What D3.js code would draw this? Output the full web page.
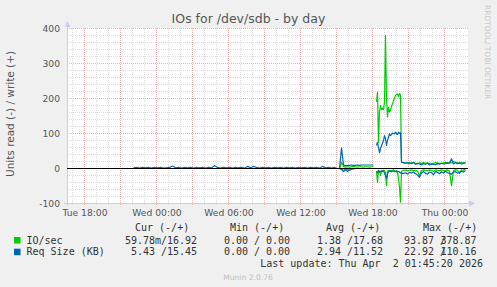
<!DOCTYPE html>
<html><head><meta charset="utf-8">
<script src="https://cdn.jsdelivr.net/npm/d3@7"></script>
<style>body{margin:0;background:#f0f0f0}svg{display:block}</style>
</head><body>
<script>
// ---------- data ----------
const xLabelTimes = [[2026,2,31,18],[2026,3,1,0],[2026,3,1,6],[2026,3,1,12],[2026,3,1,18],[2026,3,2,0]];
const xLabels = ["Tue 18:00","Wed 00:00","Wed 06:00","Wed 12:00","Wed 18:00","Thu 00:00"];
const yTicks = [-100, 0, 100, 200, 300, 400];

// quiet period: Req Size write only, 15-min samples from Tue 22:05
const quietStart = [2026,2,31,22,5];
const rsW1 = [2,3,1,3,2,3,1,3,2,3, 1,2,3,7,2,3,1,3,2,3, 1,3,2,3,1,3,2,8,3,1, 3,2,3,1,3,2,3,1,6,2,
              6,3,1,3,2,3,1,3,2,3, 1,3,2,3,1,3,2,3,1,3, 2,3,1,6,2,3,1,3,0];
// 10-min samples from Wed 15:15
const seg2Start = [2026,3,1,15,15];
const ioW2 = [0,18,6,4,5,4,5,6,5,4,5,5,4,5,5,4,5,5];
const ioR2 = [0,2,5,2,4,2,1,0,0,0,0,0,0,0,0,0,0,0];
const rsW2 = [0,59,10,8,8,9,10,9,9,10,9,10,10,10,10,10,10,10];
const rsR2 = [0,3,9,4,8,5,2,1,0,0,0,0,0,0,0,0,0,0];
// 5-min samples from Wed 18:20 (after a gap)
const seg3Start = [2026,3,1,18,20];
const ioW3 = [190,218,75,162,180,168,172,168,190,380,200,147,175,162,166,178,185,194,200,209,212,213,205,214,210,18];
const ioR3 = [8,40,5,8,20,6,8,5,6,12,49,8,5,6,8,6,5,4,6,8,10,8,30,53,96,8];
const rsW3 = [66,75,60,45,57,65,72,80,94,85,66,80,90,99,94,97,101,100,99,104,100,97,104,100,102,18];
const rsR3 = [8,12,6,10,8,9,7,8,12,22,28,15,9,8,7,9,8,7,9,8,7,9,8,10,12,14];
// 10-min samples from Wed 20:35
const seg4Start = [2026,3,1,20,35];
const ioW4 = [16,15,17,14,16,18,15,13,16,14,17,15,16,14,12,15,17,16,14,15,16,18,15,17,16,20,18,16,15,17,16,16.92];
const ioR4 = [5,4,6,5,4,6,5,8,20,6,4,5,6,4,5,8,4,5,6,4,5,6,4,8,49,6,4,5,14,4,5,0.06];
const rsW4 = [17,16,15,16,14,17,12,15,13,11,14,12,15,10,13,12,11,14,12,15,13,14,16,15,28,13,17,14,16,13,15,15.45];
const rsR4 = [14,12,16,11,13,10,15,18,25,12,9,14,16,10,12,18,9,11,15,10,13,8,12,14,16,10,9,13,11,8,10,5.43];

// legend
const legendNames = ["IO/sec", "Req Size (KB)"];
const legendColors = ["#00cc00", "#0066b3"];
const legendHeads = ["Cur (-/+)", "Min (-/+)", "Avg (-/+)", "Max (-/+)"];
const curVals = [["59.78m/", "16.92"], [" 5.43 /", "15.45"]];
const minVals = [[" 0.00 /", " 0.00"], [" 0.00 /", " 0.00"]];
const avgVals = [[" 1.38 /", "17.68"], [" 2.94 /", "11.52"]];
const maxVals = [["93.87 /", "378.87"], ["22.92 /", "110.16"]];
const lastUpdate = "Last update: Thu Apr  2 01:45:20 2026";

// ---------- build ----------
const U = a => Date.UTC(a[0], a[1], a[2], a[3], a[4] || 0);
function seg(start, stepMin, vals, sign) {
  const s = U(start);
  return vals.map((v, i) => ({t: new Date(s + i * stepMin * 60000), v: sign * v}));
}
const GAP = [null];
const ioWrite = [...seg(seg2Start,10,ioW2,1), ...GAP, ...seg(seg3Start,5,ioW3,1), ...seg(seg4Start,10,ioW4,1)];
const ioRead  = [...seg(seg2Start,10,ioR2,-1), ...GAP, ...seg(seg3Start,5,ioR3,-1), ...seg(seg4Start,10,ioR4,-1)];
const rsWrite = [...seg(quietStart,15,rsW1,1), ...seg(seg2Start,10,rsW2,1), ...GAP, ...seg(seg3Start,5,rsW3,1), ...seg(seg4Start,10,rsW4,1)];
const rsRead  = [...seg(seg2Start,10,rsR2,-1), ...GAP, ...seg(seg3Start,5,rsR3,-1), ...seg(seg4Start,10,rsR4,-1)];

const W = 497, H = 287;
const L = 67, R = 468, T = 28, B = 203;
const svg = d3.select("body").append("svg").attr("width", W).attr("height", H)
  .style("font-family", "'DejaVu Sans', sans-serif");
svg.append("rect").attr("width", W).attr("height", H).attr("fill", "#f0f0f0");

const x = d3.scaleUtc().domain([U(xLabelTimes[0]), U(xLabelTimes[5])]).range([84.5, 444.5]);
const y = d3.scaleLinear().domain([-100, 400]).range([B + 0.5, T + 0.5]);
const t0 = x.invert(L), t1 = x.invert(R);

svg.append("rect").attr("x", L).attr("y", T).attr("width", R - L).attr("height", B - T).attr("fill", "#ffffff");

const grid = svg.append("g").attr("fill", "none").attr("stroke-width", 1).attr("stroke-dasharray", "1,1");
const minorC = "#dcdcdc", majorC = "#f0b4b4";
d3.range(-100, 401, 20).filter(v => v % 100 !== 0).forEach(v => {
  grid.append("line").attr("x1", L).attr("x2", R).attr("y1", y(v)).attr("y2", y(v)).attr("stroke", minorC);
});
d3.utcHour.every(1).range(t0, t1).forEach(t => {
  if (t.getUTCHours() % 3 === 0) return;
  grid.append("line").attr("x1", x(t)).attr("x2", x(t)).attr("y1", T).attr("y2", B + 2).attr("stroke", minorC);
});
yTicks.forEach(v => {
  grid.append("line").attr("x1", L).attr("x2", R).attr("y1", y(v)).attr("y2", y(v)).attr("stroke", majorC);
});
d3.utcHour.every(3).range(t0, t1).forEach(t => {
  grid.append("line").attr("x1", x(t)).attr("x2", x(t)).attr("y1", T).attr("y2", B + 3).attr("stroke", majorC);
});

// axes lines with arrows
const axC = "#c8ccf4";
svg.append("line").attr("x1", L + 0.5).attr("x2", L + 0.5).attr("y1", B + 3).attr("y2", T - 4).attr("stroke", axC);
svg.append("path").attr("d", `M${L-2.5},${T-1} L${L+3.5},${T-1} L${L+0.5},${T-7} Z`).attr("fill", axC);
svg.append("line").attr("x1", L - 3).attr("x2", R + 3).attr("y1", B + 0.5).attr("y2", B + 0.5).attr("stroke", axC);
svg.append("path").attr("d", `M${R+1},${B-2.5} L${R+1},${B+3.5} L${R+7},${B+0.5} Z`).attr("fill", axC);

// tick labels via d3 axes
const xAxis = d3.axisBottom(x).tickValues(xLabelTimes.map(a => new Date(U(a)))).tickSize(0)
  .tickFormat((d, i) => xLabels[i]);
const gx = svg.append("g").attr("transform", `translate(0,${B + 2})`).call(xAxis);
gx.select(".domain").remove();
gx.selectAll("text").attr("font-size", 9.2).attr("fill", "#555").attr("font-family", "'DejaVu Sans', sans-serif").attr("dy", "0.71em").attr("y", 4);

const yAxis = d3.axisLeft(y).tickValues(yTicks).tickSize(0).tickFormat(d => String(d));
const gy = svg.append("g").attr("transform", `translate(${L - 7},0)`).call(yAxis);
gy.select(".domain").remove();
gy.selectAll("text").attr("font-size", 9.2).attr("fill", "#555").attr("font-family", "'DejaVu Sans', sans-serif").attr("x", 0).attr("dy", "0.34em");

// data lines
const line = d3.line().defined(d => d !== null).x(d => x(d.t)).y(d => y(d.v));
const plot = svg.append("g");
[[ioRead, legendColors[0]], [ioWrite, legendColors[0]], [rsRead, legendColors[1]], [rsWrite, legendColors[1]]]
  .forEach(([data, c]) => plot.append("path").datum(data).attr("d", line).attr("fill", "none")
    .attr("stroke", c).attr("stroke-width", 1.2).attr("stroke-linejoin", "round"));
svg.append("line").attr("x1", L).attr("x2", R).attr("y1", y(0)).attr("y2", y(0)).attr("stroke", "#000").attr("stroke-width", 1);

// titles
svg.append("text").attr("x", 248.5).attr("y", 23).attr("text-anchor", "middle").attr("font-size", 12.5)
  .attr("fill", "#555").text("IOs for /dev/sdb - by day");
svg.append("text").attr("transform", "translate(13.5,114) rotate(-90)").attr("text-anchor", "middle")
  .attr("font-size", 10.5).attr("fill", "#555").text("Units read (-) / write (+)");
svg.append("text").attr("transform", "translate(485,5) rotate(90)").attr("text-anchor", "start")
  .attr("font-size", 7.5).attr("fill", "#c8c8c8").text("RRDTOOL/ TOBI OETIKER");

// legend
const mono = "'DejaVu Sans Mono', monospace";
const lg = svg.append("g").attr("font-family", mono).attr("font-size", 10).attr("fill", "#333");
const headX = [135, 230, 326, 423];
legendHeads.forEach((h, i) => lg.append("text").attr("x", headX[i]).attr("y", 230.7).text(h));
const colStart = [125, 218, 311, 404], colEnd = [197, 290, 383, 476.5];
const cols = [curVals, minVals, avgVals, maxVals];
const rowY = [243.5, 255.2];
legendNames.forEach((n, r) => {
  lg.append("rect").attr("x", 14).attr("y", rowY[r] - 6.5).attr("width", 6.5).attr("height", 6.5).attr("fill", legendColors[r]);
  lg.append("text").attr("x", 26.5).attr("y", rowY[r]).text(n);
  cols.forEach((c, k) => {
    lg.append("text").attr("x", colStart[k]).attr("y", rowY[r]).style("white-space", "pre").text(c[r][0]);
    lg.append("text").attr("x", colEnd[k]).attr("y", rowY[r]).attr("text-anchor", "end").style("white-space", "pre").text(c[r][1]);
  });
});
lg.append("text").attr("x", 483).attr("y", 266.8).attr("text-anchor", "end").style("white-space", "pre").text(lastUpdate);
svg.append("text").attr("x", 248).attr("y", 279.5).attr("text-anchor", "middle").attr("font-size", 7.6)
  .attr("fill", "#c0c0c0").text("Munin 2.0.76");
</script>
</body></html>
